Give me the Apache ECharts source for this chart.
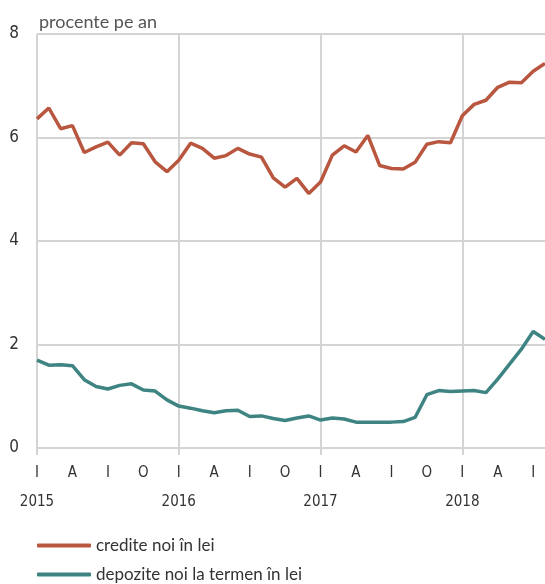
<!DOCTYPE html>
<html>
<head>
<meta charset="utf-8">
<script src="https://cdn.jsdelivr.net/npm/echarts@6/dist/echarts.min.js"></script>
<style>
  html, body { margin: 0; padding: 0; background: #fff; }
  #chart { width: 545px; height: 584px; }
</style>
</head>
<body>
<div id="chart"></div>
<script>
// luni: ian 2015 - aug 2018
const years = [2015, 2016, 2017, 2018];
const monthLetters = ['I', '', '', 'A', '', '', 'I', '', '', 'O', '', ''];

const credite = [
	6.36, 6.57, 6.17, 6.23, 5.71, 5.82, 5.91, 5.66, 5.90, 5.88, 5.53, 5.34,
	5.56, 5.89, 5.79, 5.60, 5.65, 5.79, 5.68, 5.62, 5.22, 5.04, 5.21, 4.92,
	5.14, 5.66, 5.84, 5.72, 6.04, 5.46, 5.40, 5.39, 5.52, 5.87, 5.92, 5.90,
	6.42, 6.64, 6.72, 6.97, 7.07, 7.06, 7.28, 7.43
];
const depozite = [
	1.70, 1.60, 1.61, 1.59, 1.32, 1.19, 1.14, 1.21, 1.24, 1.12, 1.10, 0.93,
	0.81, 0.77, 0.72, 0.68, 0.72, 0.73, 0.61, 0.62, 0.57, 0.53, 0.58, 0.62,
	0.54, 0.58, 0.56, 0.50, 0.50, 0.50, 0.50, 0.51, 0.59, 1.03, 1.11, 1.09,
	1.10, 1.11, 1.07, 1.33, 1.62, 1.91, 2.25, 2.10
];
const seriesNames = ['credite noi în lei', 'depozite noi la termen în lei'];
const colors = ['#b9563f', '#3e8483'];

const categories = credite.map((v, i) => {
	let y = years[0] + Math.floor(i / 12);
	let m = i % 12;
	return y + '-' + (m + 1);
});

const narrow = '"Liberation Sans Narrow", "DejaVu Sans Condensed", "Roboto Condensed", sans-serif';
const gridColor = '#d4d4d4';

function legendItem(name, top){
	return {
		left: 37,
		top: top,
		padding: 0,
		itemWidth: 54,
		itemHeight: 4,
		icon: 'roundRect',
		selectedMode: false,
		textStyle: {
			color: '#333',
			fontSize: 17,
			fontFamily: 'Lato, "Open Sans", sans-serif'
		},
		data: [name]
	};
}

const myChart = echarts.init(document.getElementById('chart'));
myChart.setOption({
	animation: false,
	title: {
		text: 'procente pe an',
		left: 34,
		top: 8,
		textStyle: {
			color: '#555',
			fontSize: 18,
			fontWeight: 'normal',
			fontFamily: 'Lato, "Open Sans", sans-serif'
		}
	},
	legend: [
		legendItem(seriesNames[0], 537),
		legendItem(seriesNames[1], 566)
	],
	grid: {
		left: 37,
		right: 0,
		top: 34,
		bottom: 136,
		containLabel: false
	},
	xAxis: {
		type: 'category',
		data: categories,
		boundaryGap: false,
		axisLine: { show: false },
		axisTick: {
			show: true,
			interval: (idx) => idx % 12 === 0,
			length: 7,
			lineStyle: { color: gridColor, width: 2 }
		},
		splitLine: {
			show: true,
			interval: (idx) => idx % 12 === 0,
			lineStyle: { color: gridColor, width: 2 }
		},
		axisLabel: {
			interval: (idx) => idx % 3 === 0,
			margin: 16,
			formatter: (val, idx) => {
				let m = idx % 12;
				let s = '{m|' + monthLetters[m] + '}';
				if (m === 0) s += '\n{y|' + (years[0] + idx / 12) + '}';
				return s;
			},
			rich: {
				m: { fontSize: 15, color: '#333', fontFamily: narrow, lineHeight: 18 },
				y: { fontSize: 15, color: '#333', fontFamily: narrow, lineHeight: 28, verticalAlign: 'bottom' }
			}
		}
	},
	yAxis: {
		type: 'value',
		min: 0,
		max: 8,
		interval: 2,
		axisLine: { show: false },
		axisTick: { show: false },
		axisLabel: {
			color: '#333',
			fontSize: 17,
			margin: 18,
			fontFamily: narrow
		},
		splitLine: {
			show: true,
			lineStyle: { color: gridColor, width: 2 }
		}
	},
	series: [
		{
			name: seriesNames[0],
			type: 'line',
			data: credite,
			showSymbol: false,
			symbol: 'none',
			color: colors[0],
			lineStyle: { color: colors[0], width: 3.5 }
		},
		{
			name: seriesNames[1],
			type: 'line',
			data: depozite,
			showSymbol: false,
			symbol: 'none',
			color: colors[1],
			lineStyle: { color: colors[1], width: 3.5 }
		}
	]
});
</script>
</body>
</html>
